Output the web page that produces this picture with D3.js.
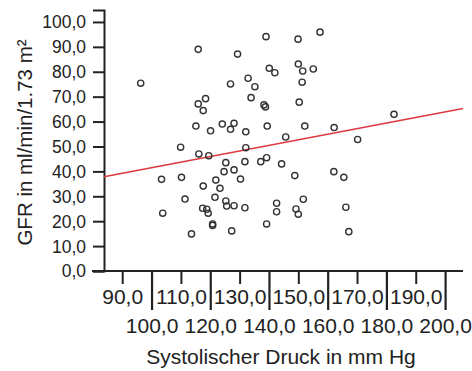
<!DOCTYPE html>
<html>
<head>
<meta charset="utf-8">
<script src="https://cdn.jsdelivr.net/npm/d3@7/dist/d3.min.js"></script>
<style>
  html, body { margin: 0; padding: 0; background: #fff; }
  svg { display: block; }
  text { font-family: "Liberation Sans", Arial, sans-serif; fill: #222; }
</style>
</head>
<body>
<svg id="chart" width="472" height="371"></svg>
<script>
// Systolic blood pressure (mm Hg) per patient
const sbp = [
  96.3, 115.9, 129.3, 139.0, 140.1, 142.0, 132.9, 126.9, 135.2, 118.4,
  115.9, 117.6, 133.9, 138.3, 138.8, 115.1, 120.1, 124.1, 128.1, 126.9,
  132.1, 139.4, 149.9, 157.4, 150.0, 151.5, 155.1, 151.3, 150.3, 152.2,
  162.2, 182.6, 145.7, 170.2, 109.9, 116.1, 119.5, 132.1, 125.3, 131.8,
  137.2, 139.2, 124.7, 128.1, 103.4, 110.2, 121.9, 130.3, 117.6, 123.3,
  111.4, 121.6, 125.3, 125.6, 128.1, 117.4, 118.8, 119.3, 131.8, 142.6,
  142.6, 103.8, 120.8, 120.8, 139.2, 113.6, 127.3, 144.3, 148.8, 162.1,
  165.5, 151.7, 149.2, 150.0, 166.2, 167.2
];
// Glomerular filtration rate (ml/min/1.73 m²) per patient
const gfr = [
  75.4, 89.0, 87.1, 94.1, 81.4, 79.6, 77.4, 75.1, 74.0, 69.2,
  67.1, 64.4, 69.6, 66.7, 65.9, 58.2, 56.3, 59.0, 59.3, 56.9,
  55.9, 58.2, 93.1, 95.9, 83.1, 80.3, 81.1, 75.8, 67.8, 58.2,
  57.6, 62.9, 53.8, 52.8, 49.7, 47.0, 46.3, 49.5, 43.5, 43.9,
  43.9, 45.5, 39.9, 40.6, 36.8, 37.6, 36.5, 36.9, 34.1, 33.2,
  28.9, 29.6, 28.1, 26.1, 26.2, 25.2, 24.8, 23.2, 25.4, 27.2,
  23.8, 23.2, 18.9, 18.3, 18.9, 14.9, 16.1, 43.0, 38.3, 39.9,
  37.6, 28.8, 24.9, 22.8, 25.6, 15.8
];

// Linear fit line (intercept, slope)
const fit = { intercept: 19.1, slope: 0.224 };

// Tick values and their labels
const yTicks = [0, 10, 20, 30, 40, 50, 60, 70, 80, 90, 100];
const xTicksOdd = [90, 110, 130, 150, 170, 190];
const xTicksEven = [100, 120, 140, 160, 180, 200];
const fmt = v => v.toFixed(1).replace(".", ",");

const svg = d3.select("#chart");
const plotLeft = 104, plotRight = 463, plotTop = 10, plotBottom = 271;

const x = d3.scaleLinear().domain([83.8, 206.1]).range([plotLeft, plotRight]);
const y = d3.scaleLinear().domain([0, 104.8]).range([plotBottom, plotTop]);

// Y axis
const yAxis = svg.append("g").attr("transform", `translate(${plotLeft},0)`)
  .call(d3.axisLeft(y).tickValues(yTicks).tickFormat(fmt).tickSize(11).tickPadding(7));
yAxis.select(".domain").attr("stroke", "#222").attr("stroke-width", 2);
yAxis.selectAll(".tick line").attr("stroke", "#222").attr("stroke-width", 2);
yAxis.selectAll(".tick text")
  .style("font-family", '"Liberation Sans", Arial, sans-serif')
  .style("font-size", "17.5px").attr("fill", "#222").attr("dy", "0.34em");

// X axis: short ticks for 90,110,...; long ticks for 100,120,...; labels on two rows
const xAxisOdd = svg.append("g").attr("transform", `translate(0,${plotBottom})`)
  .call(d3.axisBottom(x).tickValues(xTicksOdd).tickFormat(fmt).tickSize(13).tickPadding(5));
xAxisOdd.select(".domain").attr("stroke", "#222").attr("stroke-width", 2)
  .attr("d", `M${plotLeft - 12},0H${plotRight}`);
xAxisOdd.selectAll(".tick line").attr("stroke", "#222").attr("stroke-width", 2);
xAxisOdd.selectAll(".tick text")
  .style("font-family", '"Liberation Sans", Arial, sans-serif')
  .style("font-size", "21px").attr("fill", "#222");

const xAxisEven = svg.append("g").attr("transform", `translate(0,${plotBottom})`)
  .call(d3.axisBottom(x).tickValues(xTicksEven).tickFormat(fmt).tickSize(39).tickPadding(8));
xAxisEven.select(".domain").remove();
xAxisEven.selectAll(".tick line").attr("stroke", "#222").attr("stroke-width", 2.2);
xAxisEven.selectAll(".tick text")
  .style("font-family", '"Liberation Sans", Arial, sans-serif')
  .style("font-size", "21px").attr("fill", "#222")
  .attr("y", 47).attr("dy", "0.71em");

// Fit line across the visible x range
const [x0, x1] = x.domain();
svg.append("line")
  .attr("x1", x(x0)).attr("y1", y(fit.intercept + fit.slope * x0))
  .attr("x2", x(x1)).attr("y2", y(fit.intercept + fit.slope * x1))
  .attr("stroke", "#dd3a40").attr("stroke-width", 1.6);

// Data points
svg.append("g").selectAll("circle")
  .data(d3.zip(sbp, gfr))
  .join("circle")
  .attr("cx", d => x(d[0]))
  .attr("cy", d => y(d[1]))
  .attr("r", 3.1)
  .attr("fill", "none")
  .attr("stroke", "#333")
  .attr("stroke-width", 1.4);

// Axis titles
svg.append("text")
  .attr("x", 281).attr("y", 364)
  .attr("text-anchor", "middle")
  .style("font-size", "21px")
  .text("Systolischer Druck in mm Hg");

svg.append("text")
  .attr("transform", "translate(32,142.5) rotate(-90)")
  .attr("text-anchor", "middle")
  .style("font-size", "20.5px")
  .text("GFR in ml/min/1.73 m²");
</script>
</body>
</html>
